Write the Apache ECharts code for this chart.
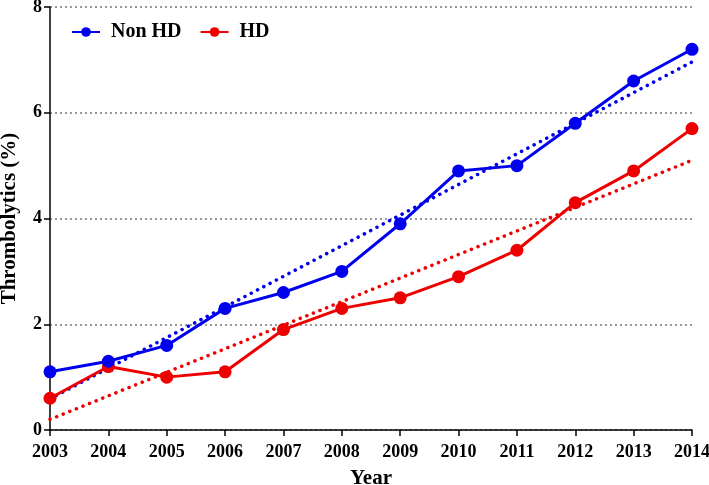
<!DOCTYPE html>
<html>
<head>
<meta charset="utf-8">
<script src="https://cdn.jsdelivr.net/npm/echarts@6/dist/echarts.min.js"></script>
<style>html,body{margin:0;padding:0;background:#fff}#c{width:709px;height:485px}</style>
</head>
<body>
<div id="c"></div>
<script>
var years = [2003,2004,2005,2006,2007,2008,2009,2010,2011,2012,2013,2014];
var nonHD = [1.1,1.3,1.6,2.3,2.6,3.0,3.9,4.9,5.0,5.8,6.6,7.2];
var hd = [0.6,1.2,1.0,1.1,1.9,2.3,2.5,2.9,3.4,4.3,4.9,5.7];
var trendYears = [2003, 2014];
var trendNonHD = [0.59, 6.96];
var trendHD = [0.2, 5.1];
var yTicks = [0,2,4,6,8];

function pairs(xs, ys){ return xs.map(function(x,i){ return [x, ys[i]]; }); }
var font = '"Liberation Serif", "Times New Roman", serif';
var blue = '#0000ee', red = '#ee0000';

var chart = echarts.init(document.getElementById('c'), null, {renderer:'canvas'});
chart.setOption({
  animation:false,
  backgroundColor:'#fff',
  grid:{left:50, right:17, top:7, bottom:55, containLabel:false, outerBoundsMode:'none'},
  legend:{
    left:66, top:17, itemWidth:28, itemHeight:12, itemGap:18,
    textStyle:{fontFamily:font, fontWeight:'bold', fontSize:20, color:'#000', padding:[0,0,0,6]},
    data:['Non HD','HD']
  },
  xAxis:{
    type:'value', min:2003, max:2014, interval:1,
    name:'Year', nameLocation:'middle', nameGap:38,
    nameTextStyle:{fontFamily:font, fontWeight:'bold', fontSize:21, color:'#000'},
    axisLine:{lineStyle:{color:'#000', width:1.5}},
    axisTick:{show:true, length:6, lineStyle:{color:'#000', width:1.5}},
    axisLabel:{fontFamily:font, fontWeight:'bold', fontSize:18, color:'#000', margin:13,
      formatter:function(v){ return years.indexOf(v) >= 0 ? String(v) : ''; }},
    splitLine:{show:false}
  },
  yAxis:{
    type:'value', min:0, max:8, interval:2,
    name:'Thrombolytics (%)', nameLocation:'middle', nameGap:30,
    nameTextStyle:{fontFamily:font, fontWeight:'bold', fontSize:21, color:'#000'},
    axisLine:{show:true, lineStyle:{color:'#000', width:1.5}},
    axisTick:{show:true, length:6, lineStyle:{color:'#000', width:1.5}},
    axisLabel:{fontFamily:font, fontWeight:'bold', fontSize:18, color:'#000', margin:8,
      formatter:function(v){ return yTicks.indexOf(v) >= 0 ? String(v) : ''; }},
    splitLine:{show:true, lineStyle:{color:'#777', type:[2,3], width:1.5}}
  },
  series:[
    {name:'Non HD', type:'line', data:pairs(years, nonHD), symbol:'circle', symbolSize:13,
      itemStyle:{color:blue}, lineStyle:{color:blue, width:3}, z:5},
    {name:'HD', type:'line', data:pairs(years, hd), symbol:'circle', symbolSize:13,
      itemStyle:{color:red}, lineStyle:{color:red, width:3}, z:4},
    {name:'trendNonHD', type:'line', data:pairs(trendYears, trendNonHD), symbol:'none',
      lineStyle:{color:blue, width:3.5, type:[0.1,7], cap:'round'}, z:3},
    {name:'trendHD', type:'line', data:pairs(trendYears, trendHD), symbol:'none',
      lineStyle:{color:red, width:3.5, type:[0.1,7], cap:'round'}, z:3}
  ]
});
</script>
</body>
</html>
